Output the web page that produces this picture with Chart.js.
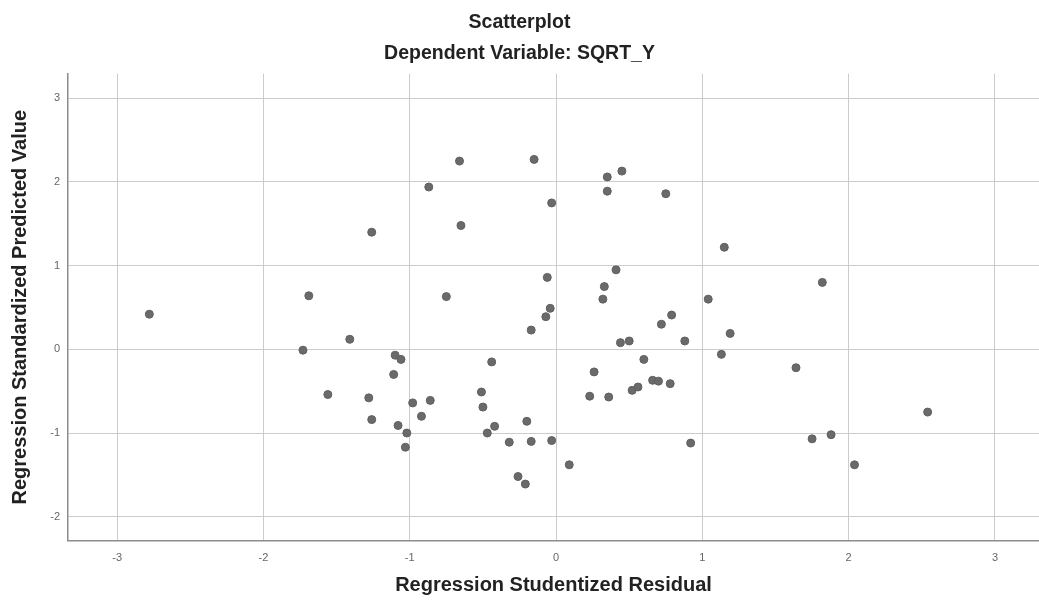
<!DOCTYPE html>
<html>
<head>
<meta charset="utf-8">
<title>Scatterplot</title>
<script src="https://cdn.jsdelivr.net/npm/chart.js@4.4.1/dist/chart.umd.min.js"></script>
<style>
    body { margin: 0; background: #ffffff; }
    #wrap { width: 1039px; height: 607px; }
</style>
</head>
<body>
<div id="wrap"><canvas id="scatter" width="1039" height="607"></canvas></div>
<script>
/* ---------- DATA ---------- */

// Regression Studentized Residual (x)
const residuals = [
    -2.78, -1.69, -1.73, -1.56, -1.41, -1.26, -1.28, -1.26, -1.10, -1.06,
    -1.11, -1.08, -1.02, -1.03, -0.98, -0.92, -0.86, -0.87, -0.75, -0.66,
    -0.65, -0.51, -0.50, -0.47, -0.44, -0.42, -0.32, -0.26, -0.21, -0.20,
    -0.17, -0.15, -0.17, -0.07, -0.06, -0.04, -0.03, -0.03, 0.09, 0.23,
    0.26, 0.36, 0.35, 0.35, 0.33, 0.32, 0.45, 0.41, 0.44, 0.50,
    0.52, 0.56, 0.60, 0.66, 0.70, 0.72, 0.79, 0.78, 0.75, 0.88,
    0.92, 1.04, 1.15, 1.13, 1.19, 1.64, 1.82, 1.75, 1.88, 2.04,
    2.54
];

// Regression Standardized Predicted Value (y)
const predicted = [
    0.42, 0.64, -0.01, -0.54, 0.12, 1.40, -0.58, -0.84, -0.07, -0.12,
    -0.30, -0.91, -1.00, -1.17, -0.64, -0.80, -0.61, 1.94, 0.63, 2.25,
    1.48, -0.51, -0.69, -1.00, -0.15, -0.92, -1.11, -1.52, -1.61, -0.86,
    -1.10, 2.27, 0.23, 0.39, 0.86, 0.49, 1.75, -1.09, -1.38, -0.56,
    -0.27, -0.57, 1.89, 2.06, 0.75, 0.60, 2.13, 0.95, 0.08, 0.10,
    -0.49, -0.45, -0.12, -0.37, -0.38, 0.30, 0.41, -0.41, 1.86, 0.10,
    -1.12, 0.60, 1.22, -0.06, 0.19, -0.22, 0.80, -1.07, -1.02, -1.38,
    -0.75
];

const xRange = [-3.336, 3.301];
const yRange = [-2.287, 3.293];

/* ---------- CHART ---------- */

const points = residuals.map((x, i) => ({ x: x, y: predicted[i] }));

const FONT = "'Liberation Sans', Arial, sans-serif";
const gridColor = "#cccccc";
const axisColor = "#8c8c8c";
const tickColor = "#666666";

new Chart(document.getElementById("scatter"), {
    type: "scatter",
    data: {
        datasets: [{
            data: points,
            pointRadius: 4,
            pointHoverRadius: 4,
            pointBackgroundColor: "#6a6a6a",
            pointBorderColor: "#606060",
            pointBorderWidth: 1
        }]
    },
    options: {
        responsive: false,
        animation: false,
        layout: { padding: 0, autoPadding: false },
        plugins: {
            legend: { display: false },
            tooltip: { enabled: false },
            title: {
                display: true,
                text: "Scatterplot",
                color: "#222222",
                font: { family: FONT, size: 19.5, weight: "bold" },
                padding: { top: 11, bottom: 7 }
            },
            subtitle: {
                display: true,
                text: "Dependent Variable: SQRT_Y",
                color: "#222222",
                font: { family: FONT, size: 19.5, weight: "bold" },
                padding: { top: 1, bottom: 8 }
            }
        },
        scales: {
            x: {
                type: "linear",
                min: xRange[0],
                max: xRange[1],
                afterFit: scale => {
                    scale.height = 66.3;
                    scale.paddingLeft = 0;
                    scale.paddingRight = 0;
                },
                ticks: {
                    stepSize: 1,
                    includeBounds: false,
                    padding: 11,
                    color: tickColor,
                    font: { family: FONT, size: 11 }
                },
                grid: { color: gridColor, drawTicks: false },
                border: { display: true, color: axisColor, width: 1.5 },
                title: {
                    display: true,
                    text: "Regression Studentized Residual",
                    color: "#222222",
                    font: { family: FONT, size: 20, weight: "bold" },
                    padding: { top: 0, bottom: 10 }
                }
            },
            y: {
                type: "linear",
                min: yRange[0],
                max: yRange[1],
                afterFit: scale => {
                    scale.width = 68;
                    scale.paddingTop = 0;
                    scale.paddingBottom = 0;
                },
                ticks: {
                    stepSize: 1,
                    includeBounds: false,
                    padding: 8,
                    color: tickColor,
                    font: { family: FONT, size: 11 }
                },
                grid: { color: gridColor, drawTicks: false },
                border: { display: true, color: axisColor, width: 1.5 },
                title: {
                    display: true,
                    text: "Regression Standardized Predicted Value",
                    color: "#222222",
                    font: { family: FONT, size: 20, weight: "bold" },
                    padding: { top: 8, bottom: 0 }
                }
            }
        }
    }
});
</script>
</body>
</html>
